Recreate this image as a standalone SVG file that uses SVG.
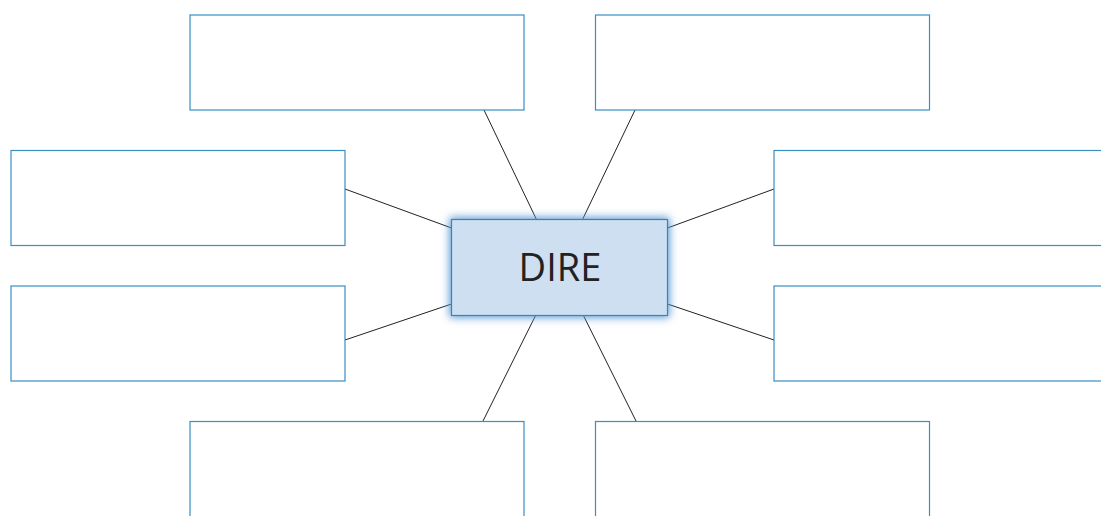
<svg xmlns="http://www.w3.org/2000/svg" width="1101" height="516" viewBox="0 0 1101 516">
<style>
.box{fill:#ffffff;stroke:#3a8ec4;stroke-width:1.2}
.center{fill:#cddff0;stroke:#3585bd;stroke-width:1.2}
.conn{stroke:#222;stroke-width:1;fill:none}
.lbl{font-family:"Open Sans","Liberation Sans",sans-serif;font-size:38px;fill:#222;text-anchor:middle}
</style>
<defs>
<filter id="glow" x="-20%" y="-30%" width="140%" height="160%">
<feMorphology in="SourceAlpha" operator="dilate" radius="2" result="d"/>
<feGaussianBlur in="d" stdDeviation="4" result="b"/>
<feFlood flood-color="#5b9bd5" flood-opacity="1"/>
<feComposite operator="in" in2="b"/>
</filter>
</defs>
<g id="connectors">
<line class="conn" x1="559.5" y1="267.5" x2="484" y2="110"/>
<line class="conn" x1="559.5" y1="267.5" x2="635" y2="110"/>
<line class="conn" x1="559.5" y1="267.5" x2="345" y2="189"/>
<line class="conn" x1="559.5" y1="267.5" x2="345" y2="340"/>
<line class="conn" x1="559.5" y1="267.5" x2="774" y2="189"/>
<line class="conn" x1="559.5" y1="267.5" x2="774" y2="340"/>
<line class="conn" x1="559.5" y1="267.5" x2="483" y2="421"/>
<line class="conn" x1="559.5" y1="267.5" x2="636" y2="421"/>
</g>
<g id="n-top-left"><rect class="box" x="190" y="15" width="334" height="95"/></g>
<g id="n-top-right"><rect class="box" x="595.5" y="15" width="334" height="95"/></g>
<g id="n-mid-left-1"><rect class="box" x="11" y="150.5" width="334" height="95"/></g>
<g id="n-mid-left-2"><rect class="box" x="11" y="286" width="334" height="95"/></g>
<g id="n-mid-right-1"><rect class="box" x="774" y="150.5" width="340" height="95"/></g>
<g id="n-mid-right-2"><rect class="box" x="774" y="286" width="340" height="95"/></g>
<g id="n-bottom-left"><rect class="box" x="190" y="421.5" width="334" height="110"/></g>
<g id="n-bottom-right"><rect class="box" x="595.5" y="421.5" width="334" height="110"/></g>
<g id="n-center">
<rect x="451.5" y="219.5" width="216" height="96" fill="#5b9bd5" filter="url(#glow)"/>
<rect class="center" x="451.5" y="219.5" width="216" height="96"/>
<text class="lbl" x="560" y="281">DIRE</text>
</g>
</svg>
